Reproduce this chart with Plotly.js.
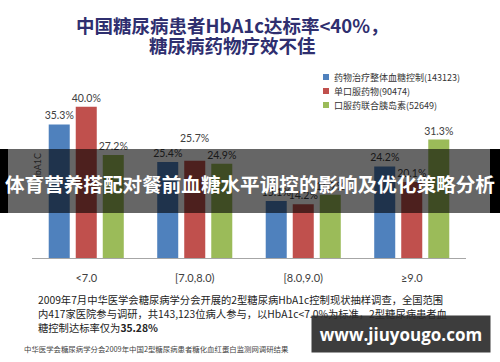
<!DOCTYPE html>
<html><head><meta charset="utf-8">
<script src="https://cdn.plot.ly/plotly-3.0.1.min.js"></script>
<style>html,body{margin:0;padding:0;background:#fff}</style>
</head><body><div id="chart" style="width:500px;height:362px"></div>
<script>
const categories = ["<7.0", "[7.0,8.0)", "[8.0,9.0)", "≥9.0"];
const seriesNames = ["药物治疗整体血糖控制(143123)", "单口服药物(90474)", "口服药联合胰岛素(52649)"];
const overallControl = [35.3, 25.4, 15.1, 24.2];
const oralOnly = [40.0, 25.7, 14.2, 20.1];
const oralPlusInsulin = [27.2, 24.9, 16.7, 31.3];
const titleLines = ["中国糖尿病患者HbA1c达标率<40%，", "糖尿病药物疗效不佳"];
const footLines = [
  "2009年7月中华医学会糖尿病学分会开展的2型糖尿病HbA1c控制现状抽样调查，全国范围",
  "内417家医院参与调研，共143,123位病人参与，以HbA1c<7.0%为标准，2型糖尿病患者血",
  "糖控制达标率仅为<b>35.28%</b>"
];
const sourceText = "中华医学会糖尿病学分会2009年中国2型糖尿病患者糖化血红蛋白监测网调研结果";
const bannerText = "体育营养搭配对餐前血糖水平调控的影响及优化策略分析";
const watermarkText = "www.jiuyougo.com";
const yTitle = "HbA1C";

const seriesValues = [overallControl, oralOnly, oralPlusInsulin];
const colors = ["#4f81bd", "#c0504d", "#9bbb59"];
const CJK = "Noto Sans CJK SC";
const NUMF = "Lato, 'Noto Sans CJK SC'";

// plot area in pixels: x 32..466, y 70..258
const L = 32, R = 466, T = 70, B = 258;
const X = px => (px - L) / (R - L);
const Y = py => (B - py) / (B - T);

// one label lifted above its neighbours in the original (series 1, category 1)
const lifted = {s: 1, c: 1, px: 13};

const traces = seriesValues.map((vals, s) => ({
  type: "bar",
  x: categories,
  y: vals,
  name: seriesNames[s],
  marker: {color: colors[s]},
  text: vals.map((v, c) => (s === lifted.s && c === lifted.c) ? "" : v.toFixed(1) + "%"),
  textposition: "outside",
  cliponaxis: false,
  textfont: {family: NUMF, size: 10.5, color: "#404040"},
  showlegend: false,
  hoverinfo: "none"
}));

const annotations = [];
const shapes = [];

// lifted label
annotations.push({
  xref: "x", yref: "y", x: categories[lifted.c], y: seriesValues[lifted.s][lifted.c],
  xshift: (lifted.s - 1) * 27, yshift: 2 + lifted.px, yanchor: "bottom",
  text: seriesValues[lifted.s][lifted.c].toFixed(1) + "%", showarrow: false,
  font: {family: NUMF, size: 10.5, color: "#404040"}
});

// title
titleLines.forEach((t, i) => annotations.push({
  xref: "paper", yref: "paper", x: X(232), y: Y(25 + 20 * i), xanchor: "center", yanchor: "middle",
  text: "<b>" + t + "</b>", showarrow: false,
  font: {family: CJK, size: 18.5, color: "#2f2f6f"}
}));

// legend (custom, tight row spacing)
seriesNames.forEach((n, i) => {
  const cy = 77 + 14 * i;
  shapes.push({type: "rect", xref: "paper", yref: "paper", x0: X(323), x1: X(329), y0: Y(cy + 3), y1: Y(cy - 3),
    fillcolor: colors[i], line: {width: 0}});
  annotations.push({xref: "paper", yref: "paper", x: X(332), y: Y(cy), xanchor: "left", yanchor: "middle",
    text: n, showarrow: false, font: {family: CJK, size: 9, color: "#333"}});
});

// y title (rotated)
annotations.push({xref: "paper", yref: "paper", x: X(37), y: Y(168), xanchor: "center", yanchor: "middle",
  text: yTitle, textangle: -90, showarrow: false, font: {family: NUMF, size: 9, color: "#222"}});

// dark banner
shapes.push({type: "rect", layer: "above", xref: "paper", yref: "paper", x0: X(8), x1: X(490), y0: Y(213), y1: Y(149),
  fillcolor: "rgba(0,0,0,0.6)", line: {width: 0}});
shapes.push({type: "rect", layer: "above", xref: "paper", yref: "paper", x0: X(0), x1: X(8), y0: Y(213), y1: Y(149),
  fillcolor: "#000", line: {width: 0}});
shapes.push({type: "rect", layer: "above", xref: "paper", yref: "paper", x0: X(490), x1: X(500), y0: Y(213), y1: Y(149),
  fillcolor: "#000", line: {width: 0}});
annotations.push({xref: "paper", yref: "paper", x: X(250), y: Y(183), xanchor: "center", yanchor: "middle",
  text: "<b>" + bannerText + "</b>", showarrow: false, font: {family: CJK, size: 19.6, color: "#fff"}});

// footnotes
footLines.forEach((t, i) => annotations.push({
  xref: "paper", yref: "paper", x: X(36), y: Y(299 + 14 * i), xanchor: "left", yanchor: "middle",
  text: t, showarrow: false, font: {family: CJK, size: 10.3, color: "#222"}
}));
annotations.push({xref: "paper", yref: "paper", x: X(22), y: Y(348), xanchor: "left", yanchor: "middle",
  text: sourceText, showarrow: false, font: {family: CJK, size: 7.4, color: "#444"}});

// watermark box
annotations.push({xref: "paper", yref: "paper", x: X(401), y: Y(334), xanchor: "center", yanchor: "middle",
  width: 178, height: 36, bgcolor: "rgba(45,45,45,0.92)", borderpad: 0,
  text: "<b>" + watermarkText + "</b>", showarrow: false, font: {family: "Open Sans, DejaVu Sans", size: 17, color: "#fff"}});

const layout = {
  width: 500, height: 362,
  margin: {l: L, r: 500 - R, t: T, b: 362 - B},
  paper_bgcolor: "#fff", plot_bgcolor: "#fff",
  barmode: "group", bargap: 0.253, bargroupgap: 0.222,
  uniformtext: {mode: false},
  xaxis: {
    type: "category", showline: true, linecolor: "#a6a6a6", linewidth: 1,
    ticks: "", showgrid: false, zeroline: false,
    tickfont: {family: NUMF, size: 11, color: "#404040"}, ticklabelstandoff: 10
  },
  yaxis: {range: [0, 49.7], visible: false, showgrid: false, zeroline: false, fixedrange: true},
  annotations: annotations,
  shapes: shapes,
  showlegend: false
};
traces.forEach(t => t.constraintext = "none");

Plotly.newPlot("chart", traces, layout, {displayModeBar: false, staticPlot: true});
</script>
</body></html>
